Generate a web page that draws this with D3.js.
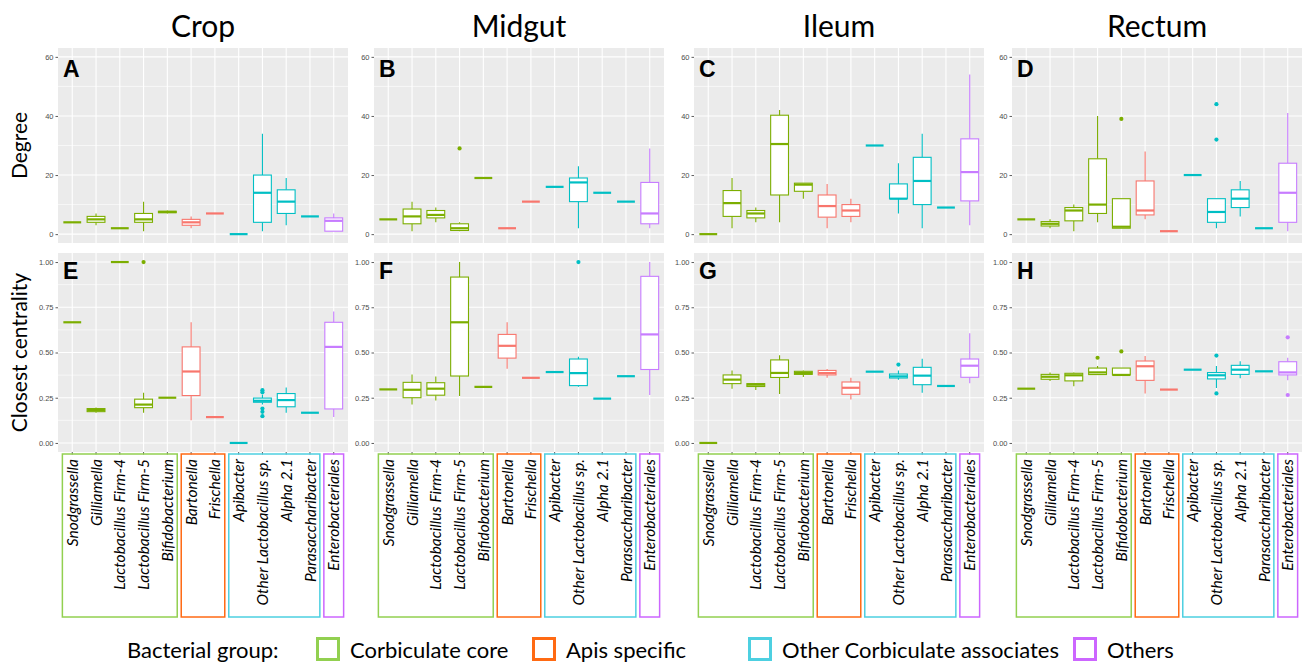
<!DOCTYPE html>
<html>
<head>
<meta charset="utf-8">
<script src="https://cdn.jsdelivr.net/npm/d3@7"></script>
<style>
  html, body { margin: 0; padding: 0; background: #fff; }
  svg { display: block; }
</style>
</head>
<body>
<svg id="chart" width="1307" height="662"></svg>
<script>
// ---- Data -------------------------------------------------------------
const categories = [
  "Snodgrassella", "Gilliamella", "Lactobacillus Firm-4", "Lactobacillus Firm-5",
  "Bifidobacterium", "Bartonella", "Frischella", "Apibacter",
  "Other Lactobacillus sp.", "Alpha 2.1", "Parasaccharibacter", "Enterobacteriales"
];
const categoryGroup = [0, 0, 0, 0, 0, 1, 1, 2, 2, 2, 2, 3];
const groupNames = ["Corbiculate core", "Apis specific", "Other Corbiculate associates", "Others"];
const boxColors = ["#7CAE00", "#F8766D", "#00BFC4", "#C77CFF"];
const groupFrameColors = ["#92D050", "#FF6A13", "#4DD0E1", "#CC66FF"];
const tissues = ["Crop", "Midgut", "Ileum", "Rectum"];
const panelLetters = [["A", "B", "C", "D"], ["E", "F", "G", "H"]];
const metricTitles = ["Degree", "Closest centrality"];
const degreeTicks = [0, 20, 40, 60];
const degreeTickLabels = ["0", "20", "40", "60"];
const closenessTicks = [0, 0.25, 0.5, 0.75, 1];
const closenessTickLabels = ["0.00", "0.25", "0.50", "0.75", "1.00"];

// Box statistics per category: [lower whisker, Q1, median, Q3, upper whisker]
const cropDegree = [
  [4, 4, 4, 4, 4], [3, 4, 5, 6, 7], [2, 2, 2, 2, 2], [1, 4, 5, 7, 11],
  [7, 7.25, 7.5, 7.75, 8], [2, 3, 4, 5, 6], [7, 7, 7, 7, 7], [0, 0, 0, 0, 0],
  [1, 4, 14, 20, 34], [3, 7, 11, 15, 19], [6, 6, 6, 6, 6], [1, 1, 4.5, 5.5, 7]
];
const midgutDegree = [
  [5, 5, 5, 5, 5], [1, 3.5, 6, 8.5, 11], [4, 5.5, 6.5, 8, 9], [1, 1.25, 2, 3.5, 4],
  [19, 19, 19, 19, 19], [2, 2, 2, 2, 2], [11, 11, 11, 11, 11], [16, 16, 16, 16, 16],
  [2, 11, 17.5, 19, 23], [14, 14, 14, 14, 14], [11, 11, 11, 11, 11], [2, 3.5, 7, 17.5, 29]
];
const ileumDegree = [
  [0, 0, 0, 0, 0], [2, 6, 10.5, 14.75, 19], [4, 5.5, 7, 8, 9], [4, 13.25, 30.5, 40.25, 42],
  [12, 14.5, 16.75, 17.25, 17.25], [2, 5.75, 9.5, 13.25, 17], [4, 6, 8, 10, 12], [30, 30, 30, 30, 30],
  [7, 12, 12, 17, 24], [2, 10, 18, 26, 34], [9, 9, 9, 9, 9], [3, 11.25, 21, 32.25, 54]
];
const rectumDegree = [
  [5, 5, 5, 5, 5], [2, 2.75, 3.5, 4.25, 5], [1, 4.5, 8, 9, 10], [4, 7, 10, 25.5, 40],
  [2, 2, 2.5, 12, 12], [5, 6.5, 8, 18, 28], [1, 1, 1, 1, 1], [20, 20, 20, 20, 20],
  [2, 4, 7.5, 12, 12], [6, 9, 12, 15, 18], [2, 2, 2, 2, 2], [1, 4, 14, 24, 41]
];
const cropCloseness = [
  [0.667, 0.667, 0.667, 0.667, 0.667], [0.167, 0.173, 0.182, 0.19, 0.196], [1, 1, 1, 1, 1],
  [0.167, 0.195, 0.212, 0.242, 0.278], [0.25, 0.25, 0.25, 0.25, 0.25], [0.125, 0.262, 0.395, 0.531, 0.667],
  [0.143, 0.143, 0.143, 0.143, 0.143], [0, 0, 0, 0, 0], [0.213, 0.225, 0.233, 0.248, 0.266],
  [0.167, 0.2, 0.237, 0.273, 0.306], [0.167, 0.167, 0.167, 0.167, 0.167], [0.143, 0.188, 0.531, 0.667, 0.727]
];
const midgutCloseness = [
  [0.296, 0.296, 0.296, 0.296, 0.296], [0.212, 0.25, 0.294, 0.335, 0.378], [0.235, 0.264, 0.3, 0.333, 0.367],
  [0.26, 0.37, 0.667, 0.917, 1], [0.31, 0.31, 0.31, 0.31, 0.31], [0.41, 0.469, 0.537, 0.6, 0.667],
  [0.36, 0.36, 0.36, 0.36, 0.36], [0.392, 0.392, 0.392, 0.392, 0.392], [0.31, 0.317, 0.386, 0.464, 0.476],
  [0.245, 0.245, 0.245, 0.245, 0.245], [0.369, 0.369, 0.369, 0.369, 0.369], [0.265, 0.406, 0.6, 0.921, 1]
];
const ileumCloseness = [
  [0, 0, 0, 0, 0], [0.3, 0.328, 0.35, 0.376, 0.4], [0.293, 0.312, 0.322, 0.328, 0.332],
  [0.27, 0.362, 0.387, 0.459, 0.485], [0.365, 0.379, 0.387, 0.396, 0.4], [0.36, 0.376, 0.386, 0.401, 0.409],
  [0.24, 0.269, 0.305, 0.337, 0.36], [0.394, 0.394, 0.394, 0.394, 0.394], [0.35, 0.359, 0.368, 0.381, 0.4],
  [0.278, 0.322, 0.372, 0.418, 0.465], [0.315, 0.315, 0.315, 0.315, 0.315], [0.33, 0.363, 0.427, 0.464, 0.606]
];
const rectumCloseness = [
  [0.3, 0.3, 0.3, 0.3, 0.3], [0.343, 0.352, 0.366, 0.379, 0.389], [0.313, 0.343, 0.374, 0.385, 0.39],
  [0.378, 0.378, 0.39, 0.414, 0.425], [0.376, 0.376, 0.376, 0.414, 0.414], [0.273, 0.346, 0.424, 0.453, 0.481],
  [0.295, 0.295, 0.295, 0.295, 0.295], [0.405, 0.405, 0.405, 0.405, 0.405], [0.304, 0.354, 0.374, 0.389, 0.425],
  [0.357, 0.379, 0.405, 0.429, 0.451], [0.396, 0.396, 0.396, 0.396, 0.396], [0.346, 0.376, 0.39, 0.449, 0.471]
];

// Outlying points: [category index, value]
const cropDegreeOut = [];
const midgutDegreeOut = [[3, 29]];
const ileumDegreeOut = [];
const rectumDegreeOut = [[4, 39], [8, 32], [8, 44]];
const cropClosenessOut = [[3, 1], [8, 0.148], [8, 0.172], [8, 0.19], [8, 0.28], [8, 0.292]];
const midgutClosenessOut = [[8, 1]];
const ileumClosenessOut = [[8, 0.433]];
const rectumClosenessOut = [[3, 0.471], [4, 0.506], [8, 0.274], [8, 0.483], [11, 0.265], [11, 0.584]];

// ---- Layout -----------------------------------------------------------
const svg = d3.select("#chart");
const panelLeft = [58, 374, 694, 1012];
const panelWidth = 290;

const rows = [
  { top: 48, bottom: 243, domain: [-3, 63], ticks: degreeTicks, labels: degreeTickLabels,
    minor: [10, 30, 50],
    stats: [cropDegree, midgutDegree, ileumDegree, rectumDegree],
    outs: [cropDegreeOut, midgutDegreeOut, ileumDegreeOut, rectumDegreeOut] },
  { top: 253, bottom: 452, domain: [-0.05, 1.05], ticks: closenessTicks, labels: closenessTickLabels,
    minor: [0.125, 0.375, 0.625, 0.875],
    stats: [cropCloseness, midgutCloseness, ileumCloseness, rectumCloseness],
    outs: [cropClosenessOut, midgutClosenessOut, ileumClosenessOut, rectumClosenessOut] }
];

// Column titles
tissues.forEach((t, i) => {
  svg.append("text")
    .attr("x", panelLeft[i] + panelWidth / 2)
    .attr("y", 37)
    .attr("text-anchor", "middle")
    .attr("font-family", "Lato, 'Open Sans', sans-serif")
    .attr("font-size", 30)
    .attr("fill", "#000")
    .text(t);
});

// Row titles
rows.forEach((r, ri) => {
  const cy = (r.top + r.bottom) / 2;
  svg.append("text")
    .attr("transform", `translate(27,${cy}) rotate(-90)`)
    .attr("text-anchor", "middle")
    .attr("font-family", "Lato, 'Open Sans', sans-serif")
    .attr("font-size", 21)
    .attr("fill", "#000")
    .text(metricTitles[ri]);
});

rows.forEach((r, ri) => {
  tissues.forEach((t, ci) => {
    const left = panelLeft[ci];
    const x = d3.scalePoint().domain(categories).range([left, left + panelWidth]).padding(0.6);
    const step = x.step();
    const y = d3.scaleLinear().domain(r.domain).range([r.bottom, r.top]);
    const g = svg.append("g");

    // Panel background
    g.append("rect")
      .attr("x", left).attr("y", r.top)
      .attr("width", panelWidth).attr("height", r.bottom - r.top)
      .attr("fill", "#EBEBEB");

    // Grid
    g.selectAll(".minor").data(r.minor).enter().append("line")
      .attr("x1", left).attr("x2", left + panelWidth)
      .attr("y1", d => y(d)).attr("y2", d => y(d))
      .attr("stroke", "#fff").attr("stroke-width", 0.6);
    g.selectAll(".major").data(r.ticks).enter().append("line")
      .attr("x1", left).attr("x2", left + panelWidth)
      .attr("y1", d => y(d)).attr("y2", d => y(d))
      .attr("stroke", "#fff").attr("stroke-width", 1.1);
    g.selectAll(".vgrid").data(categories).enter().append("line")
      .attr("x1", d => x(d)).attr("x2", d => x(d))
      .attr("y1", r.top).attr("y2", r.bottom)
      .attr("stroke", "#fff").attr("stroke-width", 1.1);

    // Y axis
    const axis = d3.axisLeft(y).tickValues(r.ticks)
      .tickFormat((d, i) => r.labels[i]).tickSize(2.5).tickPadding(2);
    const ag = g.append("g").attr("transform", `translate(${left},0)`).call(axis);
    ag.select(".domain").remove();
    ag.selectAll(".tick line").attr("stroke", "#333").attr("stroke-width", 0.8);
    ag.selectAll(".tick text")
      .attr("font-family", "'Liberation Sans', Arial, sans-serif")
      .attr("font-size", 7.5).attr("fill", "#4D4D4D");

    // Boxplots
    const stats = r.stats[ci];
    const bw = step * 0.75;
    const boxes = g.selectAll(".box").data(stats).enter().append("g");
    boxes.each(function (s, i) {
      const b = d3.select(this);
      const cx = x(categories[i]);
      const col = boxColors[categoryGroup[i]];
      b.append("line").attr("x1", cx).attr("x2", cx)
        .attr("y1", y(s[0])).attr("y2", y(s[1]))
        .attr("stroke", col).attr("stroke-width", 1.1);
      b.append("line").attr("x1", cx).attr("x2", cx)
        .attr("y1", y(s[3])).attr("y2", y(s[4]))
        .attr("stroke", col).attr("stroke-width", 1.1);
      b.append("rect")
        .attr("x", cx - bw / 2).attr("width", bw)
        .attr("y", y(s[3])).attr("height", y(s[1]) - y(s[3]))
        .attr("fill", "#fff").attr("stroke", col).attr("stroke-width", 1.1);
      b.append("line").attr("x1", cx - bw / 2).attr("x2", cx + bw / 2)
        .attr("y1", y(s[2])).attr("y2", y(s[2]))
        .attr("stroke", col).attr("stroke-width", 2.2);
    });

    // Outliers
    g.selectAll(".out").data(r.outs[ci]).enter().append("circle")
      .attr("cx", d => x(categories[d[0]]))
      .attr("cy", d => y(d[1]))
      .attr("r", 2.1)
      .attr("fill", d => boxColors[categoryGroup[d[0]]]);

    // Panel letter
    g.append("text")
      .attr("x", left + 5)
      .attr("y", r.top + (ri === 0 ? 29 : 26))
      .attr("font-family", "'Liberation Sans', Arial, sans-serif")
      .attr("font-weight", "bold")
      .attr("font-size", 23)
      .attr("fill", "#000")
      .text(panelLetters[ri][ci]);

    // Category axis with group frames under the bottom row
    if (ri === 1) {
      g.selectAll(".xt").data(categories).enter().append("line")
        .attr("x1", d => x(d)).attr("x2", d => x(d))
        .attr("y1", r.bottom).attr("y2", r.bottom + 2.5)
        .attr("stroke", "#333").attr("stroke-width", 0.8);

      groupNames.forEach((gn, gi) => {
        const members = categories.filter((c, k) => categoryGroup[k] === gi);
        const x0 = x(members[0]) - step / 2 + 2;
        const x1 = x(members[members.length - 1]) + step / 2 - 2;
        g.append("rect")
          .attr("x", x0).attr("y", 454)
          .attr("width", x1 - x0).attr("height", 163)
          .attr("fill", "none")
          .attr("stroke", groupFrameColors[gi]).attr("stroke-width", 1.5);
      });

      g.selectAll(".xl").data(categories).enter().append("text")
        .attr("transform", d => `translate(${x(d)},459) rotate(-90)`)
        .attr("text-anchor", "end")
        .attr("dy", "0.36em")
        .attr("font-family", "Lato, 'Open Sans', sans-serif")
        .attr("font-style", "italic")
        .attr("font-size", 15.5)
        .attr("fill", "#000")
        .text(d => d);
    }
  });
});

// Legend
const legend = svg.append("g").attr("font-family", "Lato, 'Open Sans', sans-serif").attr("font-size", 22);
legend.append("text").attr("x", 127).attr("y", 658).attr("fill", "#000").text("Bacterial group:");
const legendX = [316, 532, 748, 1073];
groupNames.forEach((gn, gi) => {
  legend.append("rect")
    .attr("x", legendX[gi] + 1.5).attr("y", 638.5)
    .attr("width", 21).attr("height", 21)
    .attr("fill", "#fff")
    .attr("stroke", groupFrameColors[gi]).attr("stroke-width", 3);
  legend.append("text")
    .attr("x", legendX[gi] + 34).attr("y", 658)
    .attr("fill", "#000").text(gn);
});
</script>
</body>
</html>
